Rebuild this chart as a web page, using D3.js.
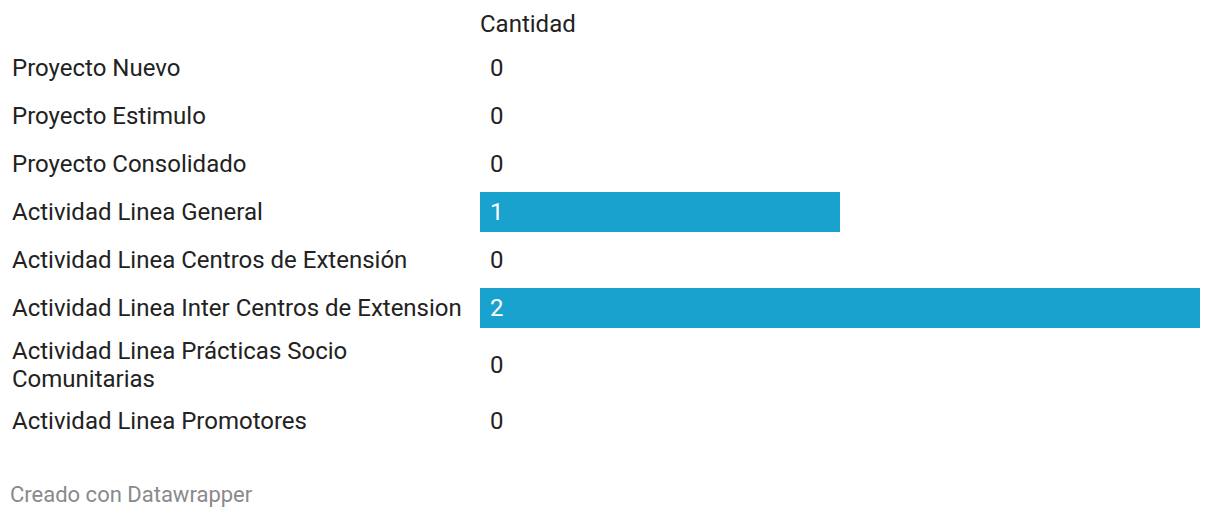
<!DOCTYPE html>
<html><head><meta charset="utf-8">
<script src="https://cdn.jsdelivr.net/npm/d3@7"></script>
<style>
html,body{margin:0;padding:0;background:#fff;}
text{font-family:Roboto, "Noto Sans", sans-serif;}
</style></head>
<body>
<svg id="chart" width="1220" height="518"></svg>
<script>
const categories = [
  "Proyecto Nuevo",
  "Proyecto Estimulo",
  "Proyecto Consolidado",
  "Actividad Linea General",
  "Actividad Linea Centros de Extensión",
  "Actividad Linea Inter Centros de Extension",
  "Actividad Linea Prácticas Socio Comunitarias",
  "Actividad Linea Promotores"
];
const values = [0, 0, 0, 1, 0, 2, 0, 0];
const seriesName = "Cantidad";
const footer = "Creado con Datawrapper";

const svg = d3.select("#chart");
const fontSize = 24, lineH = 28, labelX = 12, barX0 = 480, barX1 = 1200, wrapW = 462;
const x = d3.scaleLinear().domain([0, d3.max(values)]).range([barX0, barX1]);

svg.append("text").attr("x", barX0).attr("y", 24).attr("dy", "0.35em")
  .attr("font-size", fontSize).attr("fill", "#222").text(seriesName);

function wrap(str) {
  const t = svg.append("text").attr("font-size", fontSize);
  const words = str.split(" "); const lines = []; let cur = "";
  words.forEach(w => {
    const test = cur ? cur + " " + w : w;
    t.text(test);
    if (t.node().getComputedTextLength() > wrapW && cur) { lines.push(cur); cur = w; }
    else cur = test;
  });
  lines.push(cur); t.remove(); return lines;
}
let y = 44;
categories.forEach((c, i) => {
  const lines = wrap(c);
  const h = Math.max(48, lines.length * lineH + 9);
  const cy = y + h / 2;
  const g = svg.append("g");
  const lt = g.append("text").attr("x", labelX).attr("font-size", fontSize).attr("fill", "#222");
  lines.forEach((l, j) => {
    lt.append("tspan").attr("x", labelX).attr("y", cy + (j - (lines.length - 1) / 2) * lineH).attr("dy", "0.35em").text(l);
  });
  const v = values[i];
  if (v > 0) {
    g.append("rect").attr("x", x(0)).attr("y", cy - 20).attr("width", x(v) - x(0)).attr("height", 40).attr("fill", "#1aa2cf");
  }
  g.append("text").attr("x", x(0) + 10).attr("y", cy).attr("dy", "0.35em").attr("font-size", fontSize)
    .attr("fill", v > 0 ? "#fff" : "#222").text(v);
  y += h;
});

svg.append("text").attr("x", 10).attr("y", 494).attr("dy", "0.35em").attr("font-size", 22)
  .attr("fill", "#8a8a8a").text(footer);
</script>
</body></html>
